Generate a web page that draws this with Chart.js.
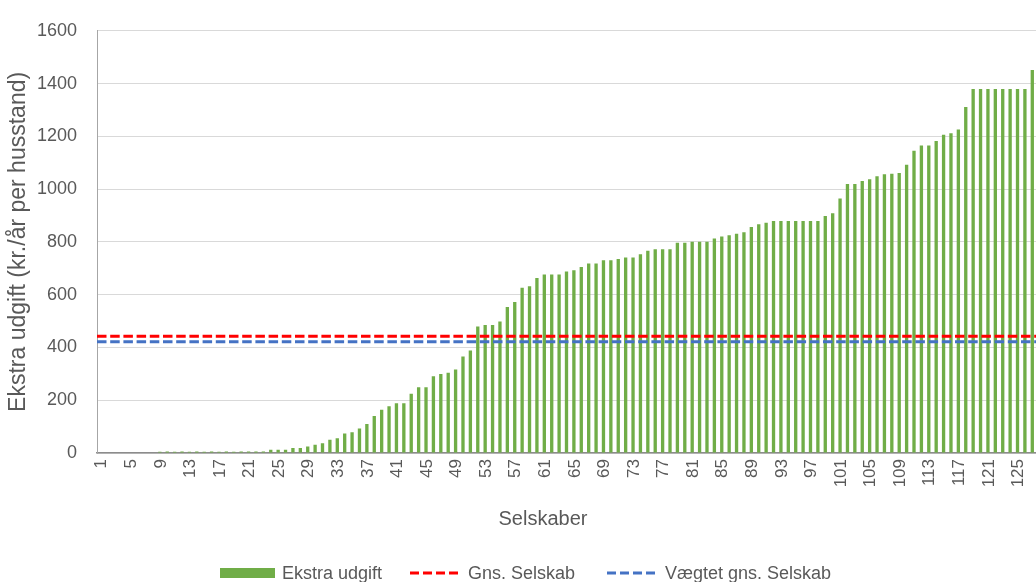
<!DOCTYPE html>
<html>
<head>
<meta charset="utf-8">
<script src="https://cdn.jsdelivr.net/npm/chart.js@4"></script>
<style>
  html, body { margin: 0; padding: 0; background: #fff; }
  #wrap { position: relative; width: 1036px; height: 582px; overflow: hidden; }
  #myChart { position: absolute; left: 0; top: 0; }
  .leg { position: absolute; font-family: "Liberation Sans", sans-serif; font-size: 18px; line-height: 20px; color: #595959; white-space: nowrap; }
  .box { position: absolute; }
  #xTitel { position: absolute; left: 543px; top: 507px; transform: translateX(-50%); font-family: "Liberation Sans", sans-serif; font-size: 20px; line-height: 22px; color: #595959; white-space: nowrap; }
</style>
</head>
<body>
<div id="wrap">
  <canvas id="myChart" width="1036" height="582"></canvas>
  <div id="xTitel">Selskaber</div>
  <div class="box" style="left:220px; top:568px; width:55px; height:10px; background:#70AD47;"></div>
  <div class="leg" style="left:282px; top:563px;">Ekstra udgift</div>
  <svg class="box" style="left:410px; top:571px;" width="50" height="4"><line x1="0" y1="2" x2="50" y2="2" stroke="#FF0000" stroke-width="3" stroke-dasharray="9 4"/></svg>
  <div class="leg" style="left:468px; top:563px;">Gns. Selskab</div>
  <svg class="box" style="left:607px; top:571px;" width="50" height="4"><line x1="0" y1="2" x2="50" y2="2" stroke="#4472C4" stroke-width="3" stroke-dasharray="9 4"/></svg>
  <div class="leg" style="left:665px; top:563px;">Vægtet gns. Selskab</div>
</div>
<script>
// selskaber 1..127 (kategorier)
const selskaber = Array.from({ length: 127 }, (_, i) => String(i + 1));
// kun hver 4. etiket vises på x-aksen
const visteEtiketter = ['1','5','9','13','17','21','25','29','33','37','41','45','49','53','57','61',
  '65','69','73','77','81','85','89','93','97','101','105','109','113','117','121','125'];

// Ekstra udgift (kr./år per husstand)
const ekstraUdgift = [
  0, 0, 0, 0, 0, 0, 0, 0, 5, 6,
  5, 6, 5, 6, 5, 6, 5, 6, 5, 6,
  6, 6, 6, 12, 12, 12, 19, 19, 25, 31,
  37, 50, 56, 74, 79, 93, 110, 140, 164, 177,
  189, 189, 225, 249, 249, 291, 299, 304, 316, 366,
  388, 479, 485, 485, 498, 553, 572, 626, 632, 663,
  676, 676, 676, 688, 693, 705, 718, 718, 730, 730,
  735, 741, 741, 753, 766, 772, 772, 772, 797, 797,
  801, 801, 801, 813, 820, 825, 831, 837, 856, 867,
  873, 879, 879, 879, 879, 879, 879, 879, 898, 909,
  964, 1019, 1019, 1031, 1037, 1049, 1056, 1058, 1061, 1092,
  1145, 1165, 1165, 1182, 1206, 1212, 1226, 1311, 1379, 1379,
  1379, 1379, 1379, 1379, 1379, 1379, 1451
];

// gennemsnit (vandrette stiplede linjer)
const gnsSelskab = 442;
const vaegtetGns = 422;

const yTicks = [0, 200, 400, 600, 800, 1000, 1200, 1400, 1600];

const fontFam = '"Liberation Sans", sans-serif';
const tekstFarve = '#595959';

const referenceLinjer = [
  { value: gnsSelskab, color: '#FF0000' },
  { value: vaegtetGns, color: '#4472C4' }
];

// tegner gennemsnitslinjerne over hele plotbredden via y-skalaen
const gnsLinjePlugin = {
  id: 'gnsLinjer',
  afterDatasetsDraw(chart) {
    const { ctx, chartArea, scales } = chart;
    ctx.save();
    ctx.lineWidth = 3;
    ctx.setLineDash([9.5, 3.7]);
    referenceLinjer.forEach(l => {
      const y = scales.y.getPixelForValue(l.value);
      ctx.strokeStyle = l.color;
      ctx.beginPath();
      ctx.moveTo(chartArea.left, y);
      ctx.lineTo(chartArea.right, y);
      ctx.stroke();
    });
    ctx.restore();
  }
};

const ctx = document.getElementById('myChart').getContext('2d');

new Chart(ctx, {
  type: 'bar',
  data: {
    labels: selskaber,
    datasets: [{
      label: 'Ekstra udgift',
      data: ekstraUdgift,
      backgroundColor: '#70AD47',
      barPercentage: 0.45,
      categoryPercentage: 1
    }]
  },
  plugins: [gnsLinjePlugin],
  options: {
    responsive: false,
    animation: false,
    devicePixelRatio: 1,
    layout: { padding: { top: 23, right: 0, bottom: 0, left: 0 } },
    plugins: { legend: { display: false }, tooltip: { enabled: false } },
    scales: {
      x: {
        type: 'category',
        offset: true,
        grid: { display: false, drawTicks: false },
        border: { display: true, color: '#8C8C8C', width: 1.5 },
        ticks: {
          autoSkip: false,
          maxRotation: 90,
          minRotation: 90,
          padding: 6,
          labelOffset: 1,
          color: tekstFarve,
          font: { family: fontFam, size: 17 },
          callback: function (value, index) {
            const lab = selskaber[index];
            return visteEtiketter.includes(lab) ? lab : '';
          }
        },
        afterFit: s => {
          s.height = 129;
          s.paddingLeft = 0;
          s.paddingRight = 0;
        }
      },
      y: {
        min: 0,
        max: 1600,
        afterBuildTicks: s => { s.ticks = yTicks.map(v => ({ value: v })); },
        grid: { color: '#D9D9D9', lineWidth: 1, drawTicks: false },
        border: { display: true, color: '#A6A6A6', width: 1 },
        ticks: {
          padding: 20,
          color: tekstFarve,
          font: { family: fontFam, size: 18 },
          callback: v => String(v)
        },
        title: {
          display: true,
          text: 'Ekstra udgift (kr./år per husstand)',
          color: tekstFarve,
          font: { family: fontFam, size: 23 },
          padding: { top: 5, bottom: 0 }
        },
        afterFit: s => { s.width = 97; }
      }
    }
  }
});
</script>
</body>
</html>
